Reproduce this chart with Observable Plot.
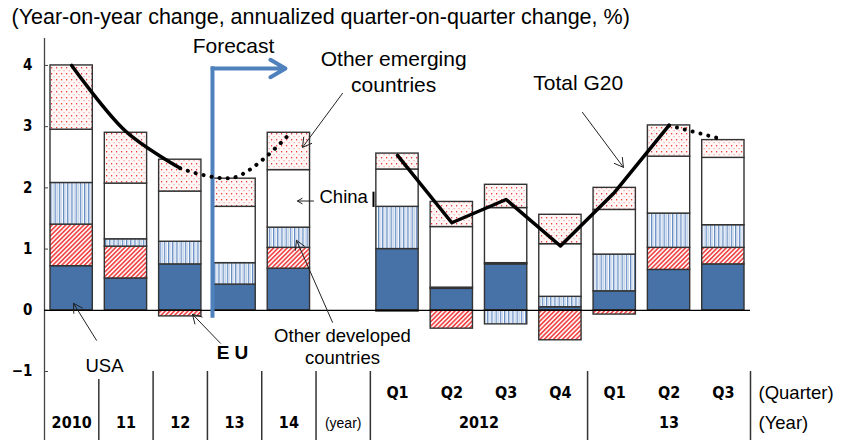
<!DOCTYPE html>
<html>
<head>
<meta charset="utf-8">
<script src="https://cdn.jsdelivr.net/npm/d3@7"></script>
<script src="https://cdn.jsdelivr.net/npm/@observablehq/plot@0.6"></script>
<style>
  body { margin: 0; background: #fff; }
  #chart svg { display: block; }
</style>
</head>
<body>
<div id="chart"></div>
<script>
// ---------- data ----------
const title = "(Year-on-year change, annualized quarter-on-quarter change, %)";
const years = ["2010", "11", "12", "13", "14"];
const yearUnitLabel = "(year)";
const quarters = ["Q1", "Q2", "Q3", "Q4", "Q1", "Q2", "Q3"];
const quarterYears = ["2012", "2012", "2012", "2012", "13", "13", "13"];
const quarterRowLabel = "(Quarter)";
const yearRowLabel = "(Year)";

const seriesNames = ["USA", "EU", "Other developed countries", "China", "Other emerging countries"];
// 5 annual values (2010-14), then 7 quarterly values (2012Q1-2013Q3)
const usa      = [0.72, 0.52, 0.75, 0.42, 0.68,   1.00, 0.35, 0.75, 0.05, 0.31, 0.66, 0.75];
const eu       = [0.68, 0.52, -0.10, 0.00, 0.34,  -0.02, -0.30, 0.02, -0.49, -0.07, 0.36, 0.27];
const otherDev = [0.68, 0.12, 0.37, 0.35, 0.33,   0.69, 0.02, -0.23, 0.17, 0.60, 0.56, 0.37];
const china    = [0.87, 0.91, 0.82, 0.92, 0.94,   0.61, 0.99, 0.90, 0.86, 0.73, 0.93, 1.10];
const otherEm  = [1.05, 0.83, 0.52, 0.46, 0.61,   0.26, 0.41, 0.38, 0.48, 0.36, 0.51, 0.29];
const totalG20 = [4.00, 2.92, 2.32, 2.17, 2.87,   2.53, 1.43, 1.81, 1.05, 1.93, 3.02, 2.79];
const isForecast = [false, false, false, true, true,  false, false, false, false, false, false, true];

const yTicks = [-1, 0, 1, 2, 3, 4];
const yTickLabels = ["\u22121", "0", "1", "2", "3", "4"];

// ---------- derived tables ----------
const columns = [
  ...years.map(y => ({label: y, group: y, row: "year"})),
  {label: yearUnitLabel, group: yearUnitLabel, row: "unit"},
  ...quarters.map((q, i) => ({label: q, group: quarterYears[i], row: "quarter"}))
].map((c, i) => ({...c, slot: i}));
const barColumns = columns.filter(c => c.row !== "unit");
const seriesValues = [usa, eu, otherDev, china, otherEm];

const rows = barColumns.flatMap((c, k) =>
  seriesNames.map((s, j) => ({x1: c.slot, x2: c.slot + 1, series: s, value: seriesValues[j][k]})));

const totals = barColumns.map((c, k) => ({x: c.slot + 0.5, y: totalG20[k], fc: isForecast[k], part: c.row}));
function splitLine(part) {
  const pts = totals.filter(d => d.part === part);
  const firstFc = pts.findIndex(d => d.fc);
  if (firstFc < 0) return {solid: pts, dotted: []};
  return {solid: pts.slice(0, firstFc), dotted: pts.slice(firstFc - 1)};
}
const annual = splitLine("year");
const quarterly = splitLine("quarter");

const separators = [];
columns.forEach((c, i) => { if (i > 0 && c.group !== columns[i - 1].group) separators.push(i); });
separators.push(columns.length);

const groupLabels = d3.groups(columns.filter(c => c.row === "quarter"), c => c.group)
  .map(([g, cs]) => ({label: g, x: (cs[0].slot + cs[cs.length - 1].slot + 1) / 2}));

// ---------- annotations (data coordinates) ----------
const notesBigMiddle = [
  {text: "Forecast", x: 3.48, y: 4.33},
  {text: "Other emerging\ncountries", x: 6.43, y: 3.91}
];
const notesBigStart = [
  {text: "Total G20", x: 9.0, y: 3.71}
];
const notesSmallMiddle = [
  {text: "USA", x: 1.105, y: -0.898},
  {text: "Other developed\ncountries", x: 5.487, y: -0.588}
];
const notesSmallStart = [
  {text: "China", x: 5.064, y: 1.85}
];
const pointers = [
  {x1: 5.487, y1: 3.543, x2: 4.751, y2: 2.661},
  {x1: 4.953, y1: 1.785, x2: 4.658, y2: 1.785},
  {x1: 9.906, y1: 3.233, x2: 10.661, y2: 2.335},
  {x1: 0.957, y1: -0.49, x2: 0.534, y2: 0.114},
  {x1: 3.241, y1: -0.539, x2: 2.725, y2: -0.065},
  {x1: 5.303, y1: -0.196, x2: 4.64, y2: 1.143}
];

const fills = ["#4672a8", "url(#hatchEU)", "url(#stripeOD)", "#ffffff", "url(#dotsOE)"];
const narrowBold = "'Liberation Sans Narrow', 'DejaVu Sans Condensed', 'Arial Narrow', sans-serif";
const rowQuarterY = -1.355, rowYearY = -1.845, tableBottom = -2.13;

const plot = Plot.plot({
  width: 843,
  height: 440,
  marginTop: 38,
  marginBottom: 69,
  marginLeft: 44,
  marginRight: 93,
  x: {type: "linear", domain: [0, columns.length], axis: null},
  y: {domain: [-1, 4.44], axis: null},
  color: {domain: seriesNames, range: fills},
  style: {fontFamily: "'Liberation Sans', Arial, sans-serif", fontSize: "18px", color: "#000", background: "#fff", overflow: "visible"},
  marks: [
    Plot.text([title], {frameAnchor: "top-left", dx: -33, dy: -21, textAnchor: "start", lineAnchor: "middle", fontSize: 21.5}),
    Plot.ruleX([0], {y1: tableBottom, y2: 4.44, stroke: "#444", strokeWidth: 1.3}),
    Plot.tickY(yTicks, {y: d => d, insetRight: 702, stroke: "#444"}),
    Plot.axisY(yTicks, {tickSize: 0, tickPadding: 12, label: null, tickFormat: d => yTickLabels[yTicks.indexOf(d)],
      fontWeight: "bold", fontFamily: narrowBold, fontSize: 15}),
    Plot.rectY(rows, {x1: "x1", x2: "x2", y: "value", fill: "series", stroke: "#333", strokeWidth: 1.4, insetLeft: 6, insetRight: 6}),
    Plot.ruleY([0], {stroke: "#000", strokeWidth: 1.2}),
    Plot.ruleX([3.093], {y1: -0.13, y2: 3.98, stroke: "#4f81bd", strokeWidth: 4}),
    Plot.arrow([{x1: 3.093, x2: 4.437, y: 3.95}], {x1: "x1", x2: "x2", y1: "y", y2: "y", stroke: "#4f81bd", strokeWidth: 4, headLength: 6.5}),
    Plot.line(annual.solid, {x: "x", y: "y", stroke: "#000", strokeWidth: 3.5, curve: "catmull-rom"}),
    Plot.line(annual.dotted, {x: "x", y: "y", stroke: "#000", strokeWidth: 4, curve: "catmull-rom", strokeDasharray: "0.1 8", strokeLinecap: "round"}),
    Plot.line(quarterly.solid, {x: "x", y: "y", stroke: "#000", strokeWidth: 3.5}),
    Plot.line(quarterly.dotted, {x: "x", y: "y", stroke: "#000", strokeWidth: 4, strokeDasharray: "0.1 8", strokeLinecap: "round"}),
    Plot.text(notesBigMiddle, {x: "x", y: "y", text: "text", textAnchor: "middle", fontSize: 21, lineHeight: 1.2}),
    Plot.text(notesBigStart, {x: "x", y: "y", text: "text", textAnchor: "start", fontSize: 21}),
    Plot.text(notesSmallMiddle, {x: "x", y: "y", text: "text", textAnchor: "middle", fontSize: 18.5, lineHeight: 1.2}),
    Plot.text(notesSmallStart, {x: "x", y: "y", text: "text", textAnchor: "start", fontSize: 18.5}),
    Plot.text(["E U"], {x: 3.462, y: -0.70, fontSize: 19, fontWeight: "bold"}),
    Plot.ruleX([6.058], {y1: 1.68, y2: 1.93, stroke: "#000", strokeWidth: 2}),
    Plot.arrow(pointers, {x1: "x1", y1: "y1", x2: "x2", y2: "y2", stroke: "#222", strokeWidth: 1, headLength: 15}),
    Plot.ruleX(separators, {x: d => d, y1: d => (d === 1 ? -1.13 : -1), y2: tableBottom, stroke: "#333", strokeWidth: 1.5}),
    Plot.text(columns.filter(c => c.row === "year"), {x: d => d.slot + 0.5, y: rowYearY, text: "label", fontWeight: "bold", fontFamily: narrowBold, fontSize: 16}),
    Plot.text(columns.filter(c => c.row === "quarter"), {x: d => d.slot + 0.5, y: rowQuarterY, text: "label", fontWeight: "bold", fontFamily: narrowBold, fontSize: 16}),
    Plot.text(groupLabels, {x: "x", y: rowYearY, text: "label", fontWeight: "bold", fontFamily: narrowBold, fontSize: 16}),
    Plot.text(columns.filter(c => c.row === "unit"), {x: d => d.slot + 0.5, y: rowYearY, text: "label", fontSize: 14}),
    Plot.text([quarterRowLabel], {x: columns.length, y: rowQuarterY, dx: 8, textAnchor: "start", fontSize: 18.5}),
    Plot.text([yearRowLabel], {x: columns.length, y: rowYearY, dx: 8, textAnchor: "start", fontSize: 18.5})
  ]
});

// ---------- fill patterns ----------
const defs = d3.select(plot).insert("defs", ":first-child");
const patEU = defs.append("pattern").attr("id", "hatchEU").attr("patternUnits", "userSpaceOnUse")
  .attr("width", 3.2).attr("height", 3.2).attr("patternTransform", "rotate(45)");
patEU.append("rect").attr("width", 3.2).attr("height", 3.2).attr("fill", "#fff");
patEU.append("rect").attr("width", 1.7).attr("height", 3.2).attr("fill", "#f04848");
const patOD = defs.append("pattern").attr("id", "stripeOD").attr("patternUnits", "userSpaceOnUse")
  .attr("width", 4.2).attr("height", 4);
patOD.append("rect").attr("width", 4.2).attr("height", 4).attr("fill", "#fff");
patOD.append("rect").attr("width", 1.2).attr("height", 4).attr("fill", "#5a85c0");
patOD.append("rect").attr("x", 2.2).attr("width", 1).attr("height", 4).attr("fill", "#b9cde8");
const patOE = defs.append("pattern").attr("id", "dotsOE").attr("patternUnits", "userSpaceOnUse")
  .attr("width", 5).attr("height", 6);
patOE.append("rect").attr("width", 5).attr("height", 6).attr("fill", "#fff6f6");
patOE.append("rect").attr("x", 1).attr("y", 1).attr("width", 1.2).attr("height", 1.4).attr("fill", "#f03a3a");
patOE.append("rect").attr("x", 3.5).attr("y", 4).attr("width", 1.2).attr("height", 1.2).attr("fill", "#f7a6a6");

document.getElementById("chart").appendChild(plot);
</script>
</body>
</html>
